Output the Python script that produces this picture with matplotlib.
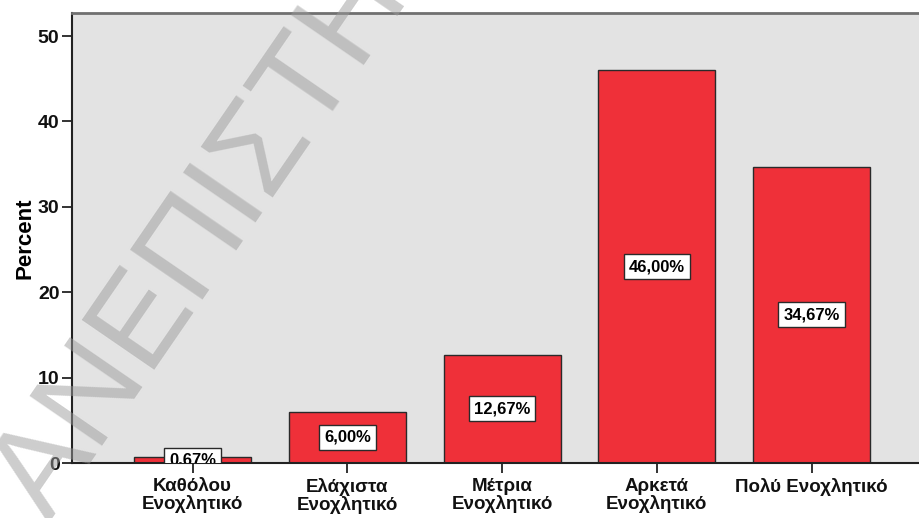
import numpy as np
import matplotlib
matplotlib.use("Agg")
import matplotlib.pyplot as plt

categories = ["Καθόλου\nΕνοχλητικό", "Ελάχιστα\nΕνοχλητικό", "Μέτρια\nΕνοχλητικό",
              "Αρκετά\nΕνοχλητικό", "Πολύ Ενοχλητικό"]
percent = [0.67, 6.00, 12.67, 46.00, 34.67]
value_labels = ["0,67%", "6,00%", "12,67%", "46,00%", "34,67%"]
y_ticks = [0, 10, 20, 30, 40, 50]
watermark = "ΑΝΕΠΙΣΤΗΜΙΟ"

plt.rcParams['font.family'] = ['Liberation Sans', 'DejaVu Sans']

fig = plt.figure(figsize=(9.2, 5.18), dpi=100)
ax = fig.add_axes([72/920, 1 - 463/518, 1 - 72/920, (463 - 13)/518])
ax.set_facecolor('#e3e3e3')

x = np.arange(len(categories))
ax.bar(x, percent, width=0.756, color='#ef3039', edgecolor='#2a2a2a', linewidth=1.0, zorder=2)

for xi, v, lab in zip(x, percent, value_labels):
    ax.text(xi, v / 2, lab, ha='center', va='center', fontsize=12, fontweight='bold',
            zorder=3, clip_on=True,
            bbox=dict(boxstyle='square,pad=0.3', facecolor='white', edgecolor='#2a2a2a', linewidth=1.0))

ax.set_xlim(-0.779, 4.70)
ax.set_ylim(0, 52.7)
ax.set_yticks(y_ticks)
ax.set_xticks(x)
ax.set_xticklabels(categories, fontsize=13.5, fontweight='bold', linespacing=1.05)
ax.tick_params(axis='y', length=7.5, width=1.2, labelsize=14, pad=1.5, colors='#111111')
ax.tick_params(axis='x', length=7.5, width=1.2, pad=3, colors='#111111')
for lbl in ax.get_yticklabels():
    lbl.set_fontweight('bold')
ax.set_ylabel('Percent', fontsize=16, fontweight='bold', labelpad=2)

ax.spines['right'].set_visible(False)
ax.spines['top'].set_color('#707070')
ax.spines['top'].set_linewidth(2)
for side in ['left', 'bottom']:
    ax.spines[side].set_color('#222222')
    ax.spines[side].set_linewidth(1.5)

# diagonal watermark over the whole figure
fig.text(0.053, -0.0097, watermark, rotation=55.5, rotation_mode='anchor',
         ha='left', va='baseline', fontsize=92, color='#9c9c9c', alpha=0.5,
         family='Liberation Sans', zorder=10)

fig.savefig('out.png', dpi=100)
